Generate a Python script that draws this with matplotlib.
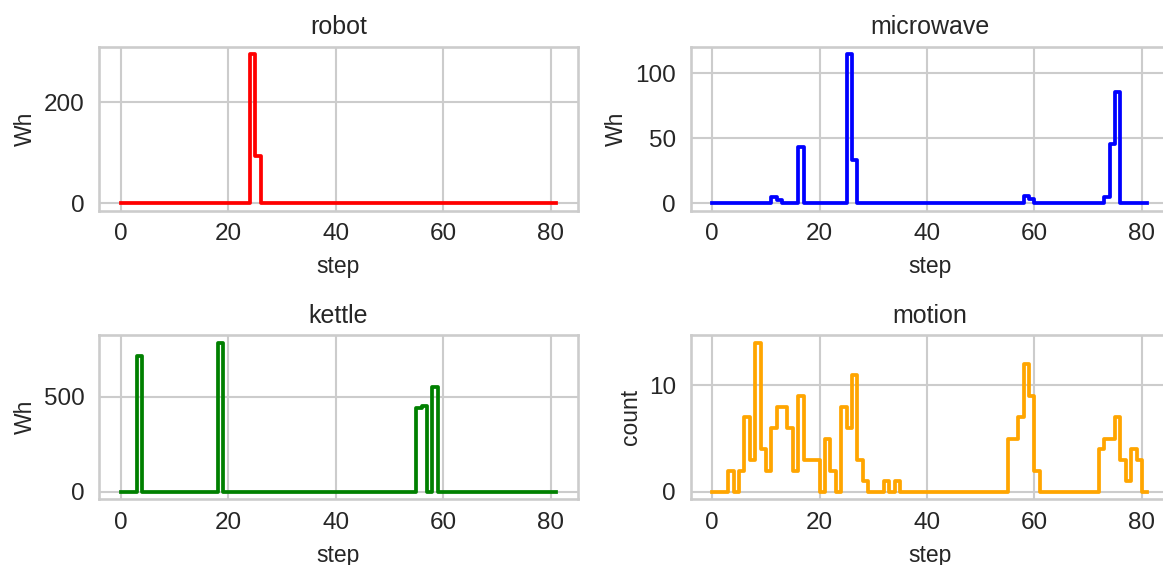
import numpy as np
import matplotlib
matplotlib.use("Agg")
import matplotlib.pyplot as plt

steps = list(range(82))

robot = [0.0] * 82
robot[24] = 295
robot[25] = 93

microwave = [0.0] * 82
for i, v in {11: 4.5, 12: 2.5, 16: 43, 25: 115, 26: 33, 58: 5.5, 59: 3.5,
             73: 4.5, 74: 46, 75: 86}.items():
    microwave[i] = v

kettle = [0.0] * 82
for i, v in {3: 715, 18: 783, 55: 442, 56: 450, 58: 552}.items():
    kettle[i] = v

motion = [0, 0, 0, 2, 0, 2, 7, 3, 14, 4, 2, 6, 8, 8, 6, 2, 9, 3, 3, 3,
          0, 5, 2, 0, 8, 6, 11, 3, 1, 0, 0, 0, 1, 0, 1, 0, 0, 0, 0, 0,
          0, 0, 0, 0, 0, 0, 0, 0, 0, 0, 0, 0, 0, 0, 0, 5, 5, 7, 12, 9,
          2, 0, 0, 0, 0, 0, 0, 0, 0, 0, 0, 0, 4, 5, 5, 7, 3, 1, 4, 3,
          0, 0]

titles = ["robot", "microwave", "kettle", "motion"]
ylabels = ["Wh", "Wh", "Wh", "count"]
colors = ["red", "blue", "green", "orange"]
series = [robot, microwave, kettle, motion]
yticks = [[0, 200], [0, 50, 100], [0, 500], [0, 10]]
xticks = [0, 20, 40, 60, 80]

plt.rcParams["font.family"] = ["Liberation Sans", "DejaVu Sans"]
W, H = 1163, 565
fig = plt.figure(figsize=(W / 100, H / 100), dpi=100)

# axes boxes in pixels: left, top, width, height
boxes = [(99.2, 46.5, 478.5, 164.2), (690.5, 46.5, 478.5, 164.2),
         (99.2, 335.2, 478.5, 164.2), (690.5, 335.2, 478.5, 164.2)]

grid_c = "#cccccc"
text_c = "#262626"
for k in range(4):
    l, t, w, h = boxes[k]
    ax = fig.add_axes([l / W, (H - t - h) / H, w / W, h / H])
    ax.step(steps, series[k], where="post", color=colors[k], lw=2.7)
    ax.set_xticks(xticks)
    ax.set_yticks(yticks[k])
    ax.grid(True, color=grid_c, lw=1.5)
    ax.set_axisbelow(True)
    for s in ax.spines.values():
        s.set_color(grid_c)
        s.set_linewidth(1.9)
    ax.tick_params(length=0, labelsize=17.5, colors=text_c)
    ax.tick_params(axis="x", pad=9)
    ax.tick_params(axis="y", pad=10.5)
    ax.set_title(titles[k], fontsize=18, color=text_c, pad=9)
    ax.set_xlabel("step", fontsize=16.5, color=text_c, labelpad=7)
    ax.set_ylabel(ylabels[k], fontsize=16.5, color=text_c, labelpad=5)

fig.savefig("out.png", dpi=100)
